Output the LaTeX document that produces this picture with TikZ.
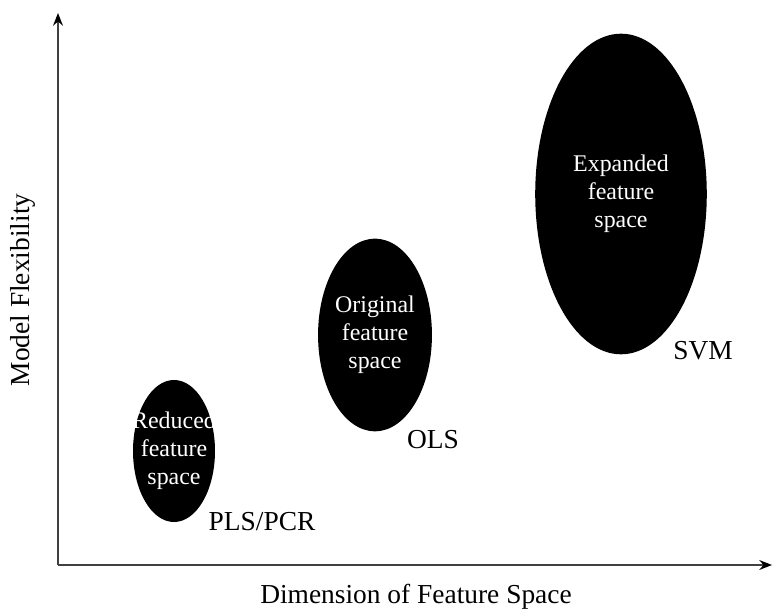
\documentclass[tikz,border=0pt]{standalone}
\usepackage{fontspec}
\setmainfont{Liberation Serif}
\usetikzlibrary{arrows.meta,shapes.geometric}
\tikzset{
  axis/.style={line width=1.1pt, color=black!75, -{Stealth[length=9pt,width=7pt,color=black]}},
  blob/.style={ellipse, fill=black, inner sep=0pt},
  blobtext/.style={text=white, align=center, inner sep=0pt,
               font=\fontsize{17}{20}\selectfont},
  method/.style={font=\fontsize{19.5}{22}\selectfont},
}

\begin{document}
\begin{tikzpicture}[x=0.025cm, y=-0.025cm]
			%%%%% START %%%%%
			\useasboundingbox (0, 0) rectangle (772, 610);
			
			\coordinate (origin) at (58, 565);
			\coordinate (ytip) at (58, 13);
			\coordinate (xtip) at (772, 565);
			\draw[axis] (origin) -- (ytip);
			\draw[axis] (origin) -- (xtip);
			
			\node[method] (xlabel) at (416, 597) {Dimension of Feature Space};
			\node[method, rotate=90] (ylabel) at (23, 290) {Model Flexibility};
			
			% sizes in pt (1 px = 0.711pt)
			\node[blob, minimum width=58.3pt, minimum height=101pt] (reduced) at (174, 451) {};
			\node[blobtext] (reducedtext) at (reduced) {Reduced\\feature\\space};
			\node[blob, minimum width=81pt, minimum height=137pt] (original) at (375, 335) {};
			\node[blobtext] (originaltext) at (original) {Original\\feature\\space};
			\node[blob, minimum width=122pt, minimum height=228pt] (expanded) at (621, 194) {};
			\node[blobtext] (expandedtext) at (expanded) {Expanded\\feature\\space};
			
			\node[method] (pls) at (262, 522) {PLS/PCR};
			\node[method] (ols) at (433, 440) {OLS};
			\node[method] (svm) at (703, 351) {SVM};
			
			%%%%% END %%%%%
\end{tikzpicture}
\end{document}
